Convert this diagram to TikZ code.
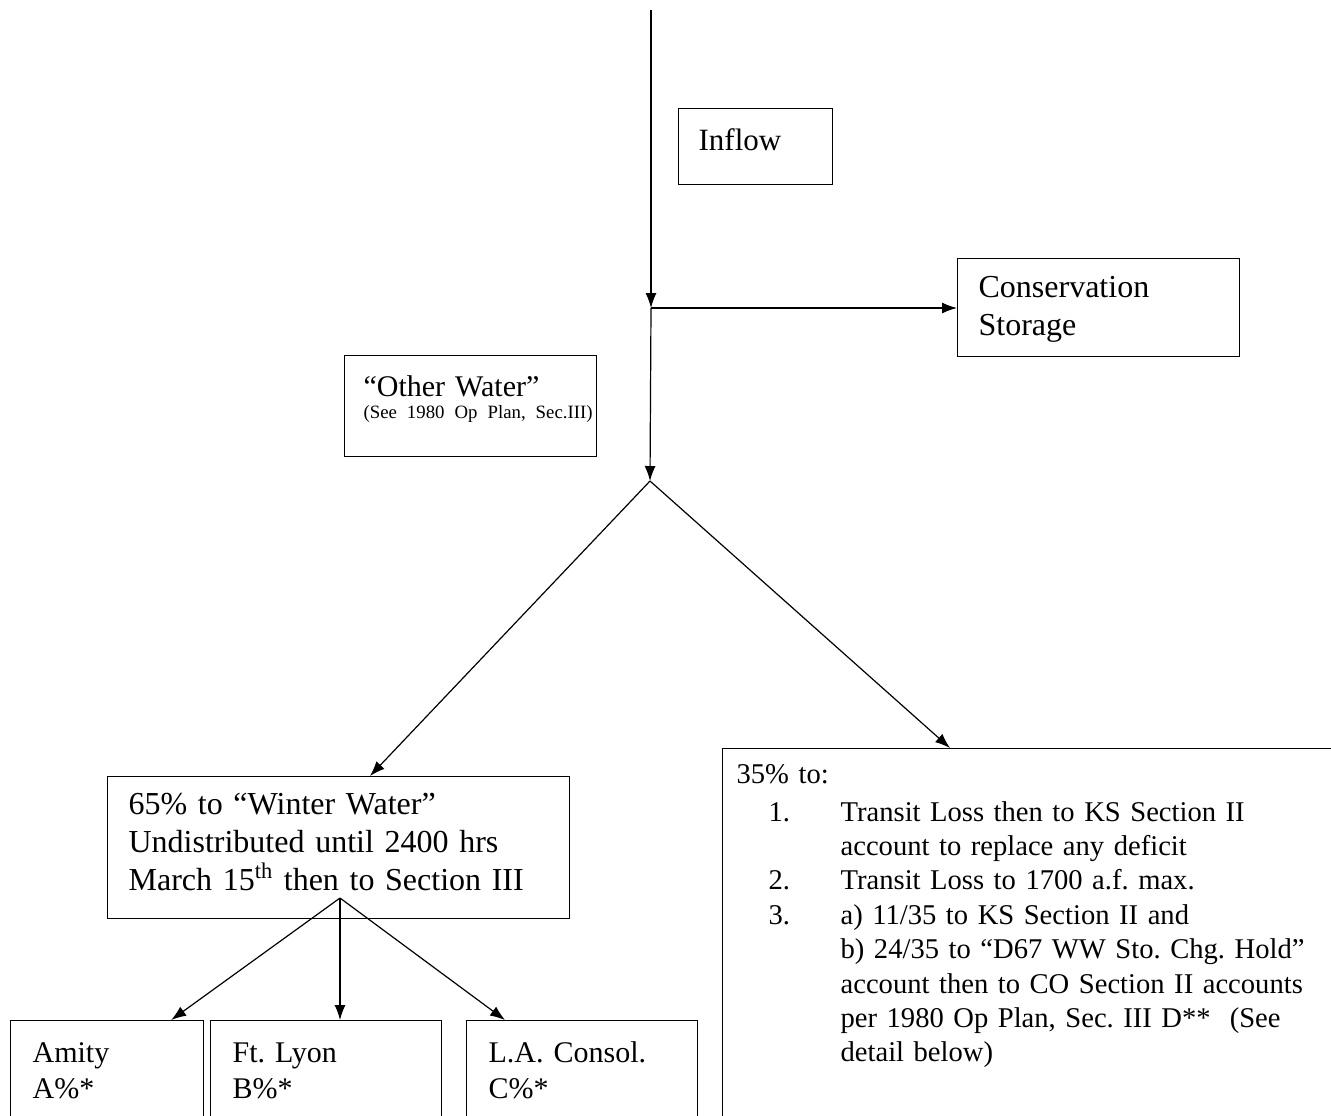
\documentclass[tikz,border=0pt]{standalone}
\usepackage{fontspec}
\setmainfont{Liberation Serif}
\usetikzlibrary{arrows.meta}
\frenchspacing

\begin{document}
\begin{tikzpicture}[x=0.5pt, y=-0.5pt, line width=0.6pt,
    box/.style={draw, align=left, anchor=north west,
      font=\fontsize{15}{18}\selectfont, text height=10.5pt},
    flow/.style={-{Latex[length=7.5pt,width=5.5pt]}}]
  \useasboundingbox (0,0) rectangle (1331,1115);
  \clip (0,0) rectangle (1331,1115);

  % boxes
  \node[box, font=\fontsize{15.5}{18}\selectfont, inner xsep=10pt, inner ysep=10.1pt,
    text width=57pt, text height=10.9pt, text depth=6.9pt] (inflow) at (678,108) {Inflow};
  \node[box, font=\fontsize{16}{19}\selectfont, inner xsep=10.5pt, inner ysep=8.3pt,
    text width=120pt, text height=11.2pt, text depth=21.2pt] (storage) at (957,258)
    {Conservation\\Storage};
  \node[box, font=\fontsize{15}{11}\selectfont, inner xsep=9.5pt, inner ysep=10pt,
    text width=107pt, text depth=20pt] (other) at (344,355)
    {“Other Water”\\{\fontsize{9.4}{11}\selectfont\makebox[\linewidth][l]{(See 1980 Op Plan, Sec.III)}}};
  \node[box, font=\fontsize{16}{19}\selectfont, inner xsep=10.5pt, inner ysep=7.8pt,
    text width=210pt, text height=11.2pt, text depth=44.2pt] (winter) at (107,776)
    {65\% to “Winter Water”\\Undistributed until 2400 hrs\\March 15\textsuperscript{th} then to Section III};
  \node[box, font=\fontsize{14.3}{17.2}\selectfont, inner xsep=7pt, inner ysep=7.5pt,
    text width=336pt, text height=10pt, text depth=190pt] (share) at (722,748)
    {35\% to:\\[1.5pt]
     \hspace*{16pt}\makebox[36pt][l]{1.}Transit Loss then to KS Section II\\
     \hspace*{52pt}account to replace any deficit\\
     \hspace*{16pt}\makebox[36pt][l]{2.}Transit Loss to 1700 a.f. max.\\
     \hspace*{16pt}\makebox[36pt][l]{3.}a) 11/35 to KS Section II and\\
     \hspace*{52pt}b) 24/35 to “D67 WW Sto. Chg. Hold”\\
     \hspace*{52pt}account then to CO Section II accounts\\
     \hspace*{52pt}per 1980 Op Plan, Sec. III D**\ \ (See\\
     \hspace*{52pt}detail below)};
  \node[box, inner xsep=11pt, inner ysep=10.5pt, text width=74.5pt, text depth=60pt] (amity) at (10,1020)
    {Amity\\A\%*};
  \node[box, inner xsep=11pt, inner ysep=10.5pt, text width=93.5pt, text depth=60pt] (lyon) at (210,1020)
    {Ft. Lyon\\B\%*};
  \node[box, inner xsep=11pt, inner ysep=10.5pt, text width=93.5pt, text depth=60pt] (consol) at (466,1020)
    {L.A. Consol.\\C\%*};

  % flow lines
  \coordinate (top) at (651,10);
  \coordinate (split) at (651,308);
  \coordinate (fork) at (650,481);
  \coordinate (fork2) at (340,898);

  \draw[flow] (top) -- (split);
  \draw[flow] (split) -- (storage.west |- split);
  \draw[flow] (split) -- (fork);
  \draw[flow] (fork) -- ([xshift=131.5pt]winter.north west);
  \draw[flow] (fork) -- ([xshift=114pt]share.north west);
  \draw[flow] (fork2) -- ([xshift=-16.5pt]amity.north east);
  \draw[flow] (fork2) -- ([xshift=65pt]lyon.north west);
  \draw[flow] (fork2) -- ([xshift=19.5pt]consol.north west);
\end{tikzpicture}
\end{document}
